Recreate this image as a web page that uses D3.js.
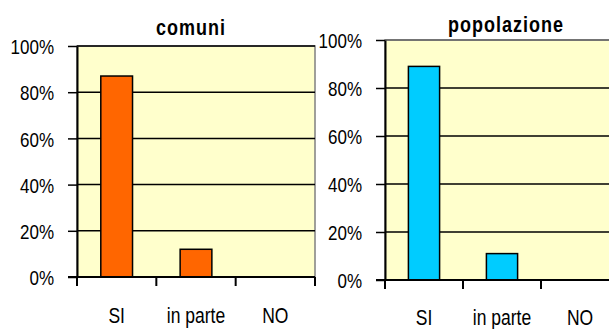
<!DOCTYPE html>
<html>
<head>
<meta charset="utf-8">
<script src="https://cdn.jsdelivr.net/npm/d3@7"></script>
<style>
  html, body { margin: 0; padding: 0; background: #fff; }
  svg { display: block; font-family: "Liberation Sans", Arial, sans-serif; }
</style>
</head>
<body>
<svg id="chart" width="609" height="329"></svg>
<script>
// Risposte per categoria, quota su comuni e su popolazione
const categories = ["SI", "in parte", "NO"];
const comuniValues = [0.87, 0.12, 0];
const popolazioneValues = [0.89, 0.11, 0];
const yTicks = [0, 0.2, 0.4, 0.6, 0.8, 1];
const titles = ["comuni", "popolazione"];
const barColors = ["#FF6600", "#00CCFF"];

const svg = d3.select("#chart");
const textStretch = 1.24;

const panels = [
  { title: titles[0], values: comuniValues, color: barColors[0],
    left: 77, right: 315, top: 46, bottom: 277, titleX: 191, titleY: 35, labelY: 323, topLine: "#000" },
  { title: titles[1], values: popolazioneValues, color: barColors[1],
    left: 385, right: 619, top: 40, bottom: 280, titleX: 506, titleY: 31.5, labelY: 324.5, topLine: "#666" }
];

function drawPanel(p) {
  const g = svg.append("g");

  const x = d3.scaleBand()
    .domain(categories)
    .range([p.left, p.right])
    .paddingInner(0.6)
    .paddingOuter(0.3);

  const y = d3.scaleLinear().domain([0, 1]).range([p.bottom, p.top]);

  // plot area
  g.append("rect")
    .attr("x", p.left).attr("y", p.top)
    .attr("width", p.right - p.left).attr("height", p.bottom - p.top)
    .attr("fill", "#FFFFCC")
    .attr("stroke", "#808080").attr("stroke-width", 1.5);

  // horizontal gridlines
  g.append("g")
    .selectAll("line")
    .data(yTicks.filter(d => d > 0))
    .join("line")
    .attr("x1", p.left).attr("x2", p.right)
    .attr("y1", d => y(d)).attr("y2", d => y(d))
    .attr("stroke", d => d === 1 ? p.topLine : "#000")
    .attr("stroke-width", 1.5);

  // bars
  g.append("g")
    .selectAll("rect")
    .data(categories.map((c, i) => ({ c, v: p.values[i] })).filter(d => d.v > 0))
    .join("rect")
    .attr("x", d => x(d.c))
    .attr("width", x.bandwidth())
    .attr("y", d => y(d.v))
    .attr("height", d => y(0) - y(d.v))
    .attr("fill", p.color)
    .attr("stroke", "#000")
    .attr("stroke-width", 1.5);

  // y axis
  const yAxis = g.append("g")
    .attr("transform", `translate(${p.left},0)`)
    .call(d3.axisLeft(y).tickValues(yTicks).tickFormat(d3.format(".0%"))
      .tickSize(9).tickPadding(14).tickSizeOuter(0));
  yAxis.select(".domain").attr("stroke", "#000").attr("stroke-width", 2);
  yAxis.selectAll(".tick line").attr("stroke", "#000").attr("stroke-width", 1.5);
  yAxis.selectAll(".tick text")
    .attr("fill", "#000")
    .style("font-size", "17px")
    .attr("dy", "0.36em")
    .attr("transform", `scale(1,${textStretch})`);

  // x axis: baseline and category boundary ticks
  const offset = x.step() * x.paddingOuter();
  const bounds = categories.map(c => x(c) - offset).concat([p.right]);
  g.append("line")
    .attr("x1", p.left - 9).attr("x2", p.right)
    .attr("y1", p.bottom).attr("y2", p.bottom)
    .attr("stroke", "#000").attr("stroke-width", 2);
  g.append("g")
    .selectAll("line")
    .data(bounds)
    .join("line")
    .attr("x1", d => d).attr("x2", d => d)
    .attr("y1", p.bottom).attr("y2", p.bottom + 9)
    .attr("stroke", "#000").attr("stroke-width", 2);

  // category labels, baseline at labelY
  const xAxis = g.append("g")
    .attr("transform", `translate(0,${p.labelY})`)
    .call(d3.axisBottom(x).tickSize(0).tickPadding(0));
  xAxis.select(".domain").remove();
  xAxis.selectAll(".tick text")
    .attr("y", 0).attr("dy", 0)
    .attr("fill", "#000")
    .style("font-size", "17.5px")
    .attr("transform", `scale(1,${textStretch})`);

  // title
  g.append("text")
    .attr("transform", `translate(${p.titleX},${p.titleY}) scale(1,${textStretch})`)
    .attr("text-anchor", "middle")
    .style("font-size", "18px")
    .style("font-weight", "bold")
    .style("letter-spacing", "1px")
    .attr("fill", "#000")
    .text(p.title);
}

panels.forEach(drawPanel);
</script>
</body>
</html>
